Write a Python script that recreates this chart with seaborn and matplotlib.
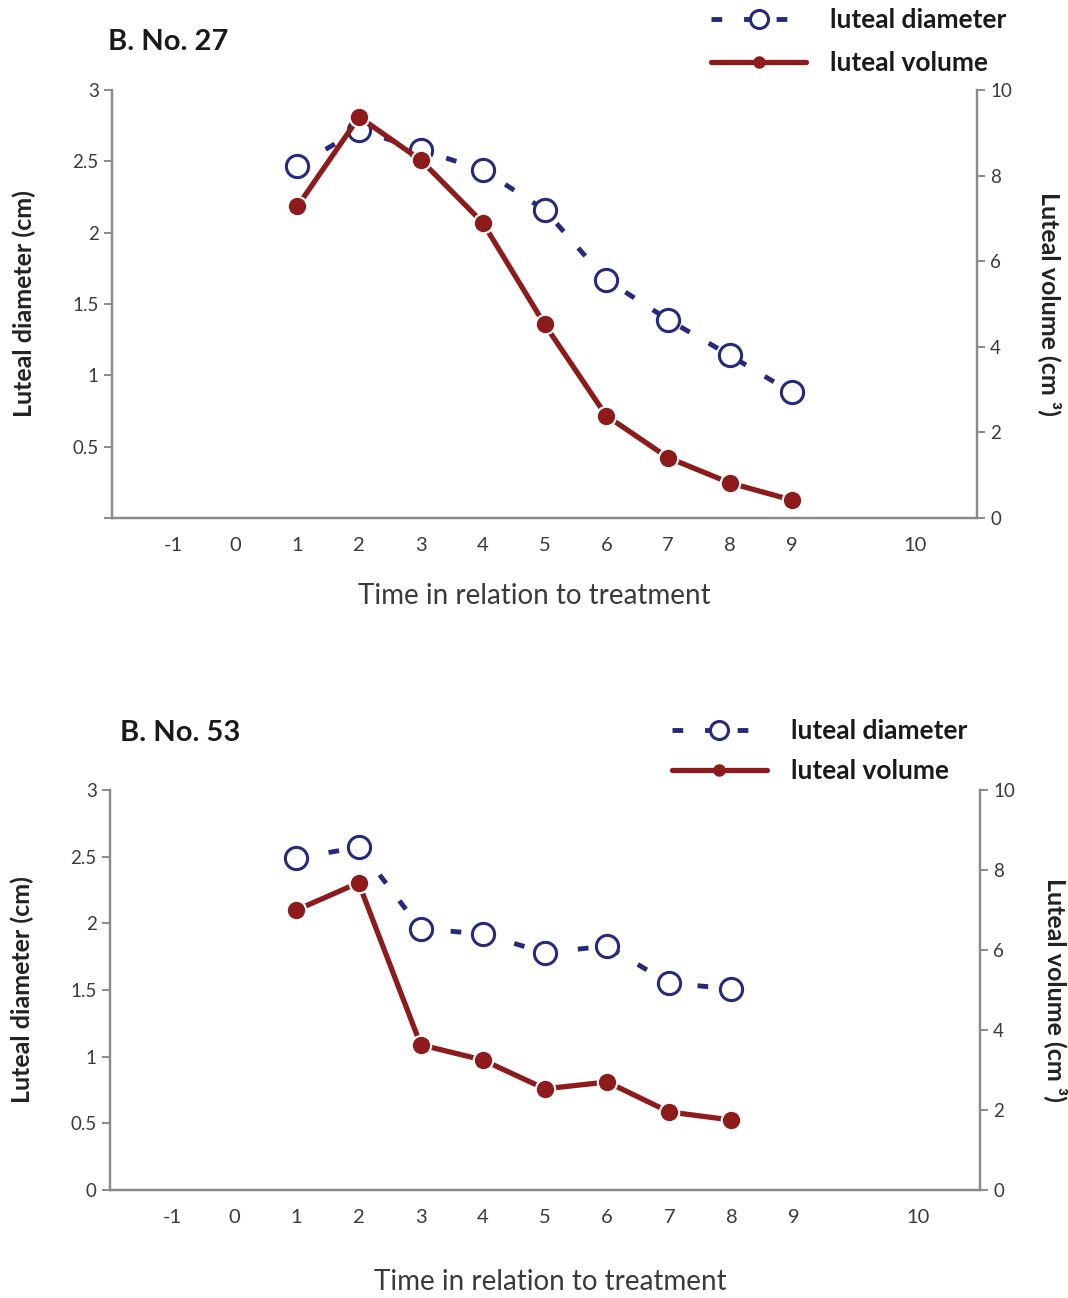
import numpy as np
import pandas as pd
import matplotlib
matplotlib.use("Agg")
import matplotlib.pyplot as plt
from matplotlib.lines import Line2D
import seaborn as sns

sns.set_style("white")
plt.rcParams["font.family"] = ["Lato", "DejaVu Sans"]

# data
days_27 = [1, 2, 3, 4, 5, 6, 7, 8, 9]
diam_27 = [2.47, 2.72, 2.58, 2.44, 2.16, 1.67, 1.39, 1.14, 0.88]
vol_27 = [7.28, 9.37, 8.36, 6.90, 4.53, 2.39, 1.41, 0.82, 0.42]

days_53 = [1, 2, 3, 4, 5, 6, 7, 8]
diam_53 = [2.49, 2.57, 1.96, 1.92, 1.78, 1.83, 1.55, 1.51]
vol_53 = [7.00, 7.68, 3.63, 3.25, 2.53, 2.70, 1.95, 1.75]

x_tick_labels = ["", "-1", "0", "1", "2", "3", "4", "5", "6", "7", "8", "9", "", "10", ""]
left_ticks = [0, 0.5, 1, 1.5, 2, 2.5, 3]
right_ticks = [0, 2, 4, 6, 8, 10]

BLUE = "#262a7e"
RED = "#8e1b1b"
GREY = "#8a8a8a"
TXT = "#3a3a3a"

fig = plt.figure(figsize=(10.68, 12.98), dpi=100)


def panel(rect, days, diam, vol, title, title_xy, legend_xy, show_zero,
          xlab_xy, ylab_x, y2lab_x, label_spacing):
    ax = fig.add_axes(rect)
    ax2 = ax.twinx()
    df = pd.DataFrame({"day": days, "diam": diam, "vol": vol})

    sns.lineplot(data=df, x="day", y="diam", ax=ax, color=BLUE, lw=3.5,
                 marker="o", markersize=16, markerfacecolor="white",
                 markeredgecolor=BLUE, markeredgewidth=2.2, zorder=3)
    ax.lines[-1].set_dashes((2.2, 4.5))
    sns.lineplot(data=df, x="day", y="vol", ax=ax2, color=RED, lw=3.8,
                 marker="o", markersize=14, markerfacecolor=RED,
                 markeredgecolor="white", markeredgewidth=1.5, zorder=4)

    ax.set_xlim(-2, 12)
    ax.set_xticks(np.arange(-2, 13))
    ax.set_xticklabels(x_tick_labels)
    ax.set_ylim(0, 3)
    ax.set_yticks(left_ticks)
    ylabels = ["0" if show_zero else ""] + ["%g" % t for t in left_ticks[1:]]
    ax.set_yticklabels(ylabels)
    ax2.set_ylim(0, 10)
    ax2.set_yticks(right_ticks)

    for a in (ax, ax2):
        for s in a.spines.values():
            s.set_color(GREY)
            s.set_linewidth(1.6)
        a.spines["top"].set_visible(False)
        a.tick_params(colors=GREY, labelcolor=TXT, labelsize=13.5, length=6,
                      width=1.4, direction="out")
        a.grid(False)
    ax.tick_params(axis="x", pad=8, labelsize=14.5)

    ax.set_xlabel("Time in relation to treatment", fontsize=20, color=TXT)
    ax.xaxis.set_label_coords(*xlab_xy)
    ax.xaxis.label.set_va("center")
    ax.set_ylabel("Luteal diameter (cm)", fontsize=18, fontweight="bold",
                  color="#222222")
    ax.yaxis.set_label_coords(ylab_x, 0.5)
    ax2.set_ylabel("Luteal volume (cm \u00b3)", fontsize=18, fontweight="bold",
                   color="#222222", rotation=270, va="bottom")
    ax2.yaxis.set_label_coords(y2lab_x, 0.5)

    fig.text(title_xy[0], title_xy[1], title, fontsize=21, fontweight="bold",
             color="#1a1a1a", va="center", ha="left")

    handles = [
        Line2D([], [], color=BLUE, lw=3.5, dashes=(2.2, 4.5), marker="o",
               markersize=13, markerfacecolor="white", markeredgecolor=BLUE,
               markeredgewidth=2.2),
        Line2D([], [], color=RED, lw=3.8, marker="o", markersize=8,
               markerfacecolor=RED, markeredgecolor=RED),
    ]
    leg = ax.legend(handles, ["luteal diameter", "luteal volume"],
                    loc="upper left", bbox_to_anchor=legend_xy,
                    bbox_transform=fig.transFigure, frameon=False,
                    handlelength=3.6, handletextpad=0.9,
                    labelspacing=label_spacing,
                    borderpad=0, borderaxespad=0,
                    prop={"size": 19, "weight": "bold"})
    for t in leg.get_texts():
        t.set_color("#1a1a1a")
    return ax, ax2


panel([112 / 1068, 1 - 518 / 1298, 865 / 1068, 428 / 1298],
      days_27, diam_27, vol_27, "B. No. 27", (0.101, 0.9676),
      (0.666, 0.9935), False, (0.488, -0.182), -0.0875, 1.071, 0.72)
panel([110 / 1068, 1 - 1190 / 1298, 870 / 1068, 400 / 1298],
      days_53, diam_53, vol_53, "B. No. 53", (0.112, 0.4353),
      (0.629, 0.446), True, (0.506, -0.23), -0.087, 1.074, 0.6)

fig.savefig("out.png", dpi=100, facecolor="white")
